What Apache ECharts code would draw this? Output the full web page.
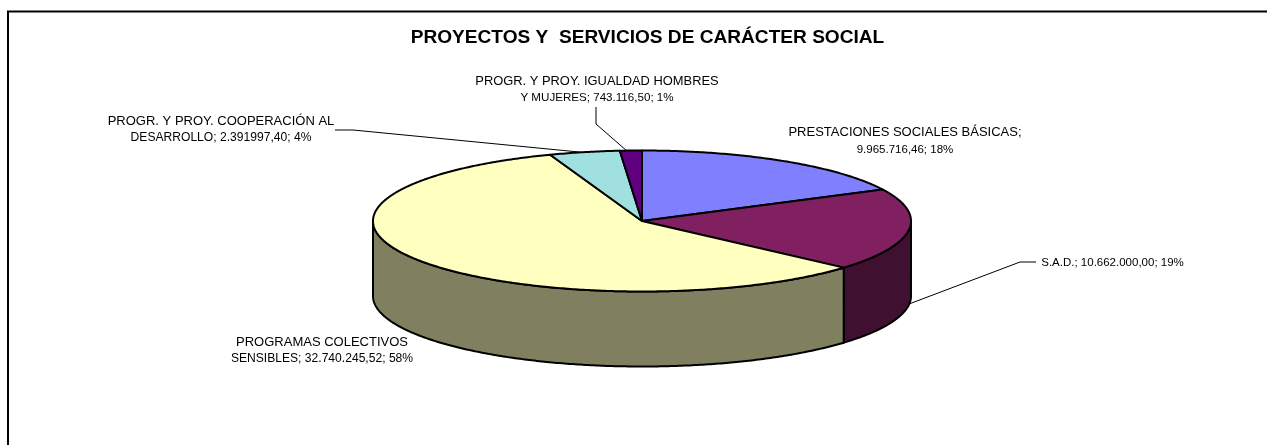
<!DOCTYPE html>
<html>
<head>
<meta charset="utf-8">
<style>
  html, body { margin: 0; padding: 0; background: #fff; }
  #chart { width: 1267px; height: 445px; }
</style>
<script src="https://cdn.jsdelivr.net/npm/echarts@6/dist/echarts.min.js"></script>
</head>
<body>
<div id="chart"></div>
<script>
const titleText = 'PROYECTOS Y  SERVICIOS DE CARÁCTER SOCIAL';
const categories = [
  'PRESTACIONES SOCIALES BÁSICAS',
  'S.A.D.',
  'PROGRAMAS COLECTIVOS SENSIBLES',
  'PROGR. Y PROY. COOPERACIÓN AL DESARROLLO',
  'PROGR. Y PROY. IGUALDAD HOMBRES Y MUJERES',
];
const values = [9965716.46, 10662000.00, 32740245.52, 2391997.40, 743116.50];
const valueTexts = ['9.965.716,46', '10.662.000,00', '32.740.245,52', '2.391997,40', '743.116,50'];
const percents = ['18%', '19%', '58%', '4%', '1%'];
// where the excel label wraps, per category
const labelBreaks = [
  ['PRESTACIONES SOCIALES BÁSICAS;', ''],
  ['', 'S.A.D.; '],
  ['PROGRAMAS COLECTIVOS', 'SENSIBLES; '],
  ['PROGR. Y PROY. COOPERACIÓN AL', 'DESARROLLO; '],
  ['PROGR. Y PROY. IGUALDAD HOMBRES', 'Y MUJERES; '],
];

const topColors = ['#8080ff', '#802060', '#ffffc0', '#a0e0e0', '#600080'];
const wallColors = ['#404080', '#401030', '#808060', '#507070', '#300040'];

// pie geometry, px
const CX = 642, CY = 221, RX = 269, RY = 70.5, DEPTH = 75;
const FONT = '"Liberation Sans", Arial, sans-serif';

// label [x, y of line 1, y of line 2], font size per line and leader polyline
const labelPos = [[905, 132, 150], [1112.5, 263, 263], [322, 342, 359], [221, 121, 138], [597, 81, 98]];
const labelSizes = [[13, 11.5], [11.5, 11.5], [13, 12.1], [13, 12.1], [12.9, 11.6]];
const leaders = [
  null,
  [[909, 304], [1020, 262], [1036, 262]],
  null,
  [[335, 130], [353, 130], [579, 152]],
  [[596, 107], [596, 124], [627, 151]],
];

const total = values.reduce((a, b) => a + b, 0);
const starts = [];
values.reduce((sum, v, i) => { starts[i] = sum / total * Math.PI * 2; return sum + v; }, 0);

// clock angle: 0 at 12 o'clock, going clockwise
function onRim(a, dy) {
  return [CX + RX * Math.sin(a), CY - RY * Math.cos(a) + (dy || 0)];
}

function arcPoints(a0, a1, dy) {
  const n = Math.max(2, Math.ceil((a1 - a0) / 0.01));
  const pts = [];
  for (let i = 0; i <= n; i++) pts.push(onRim(a0 + (a1 - a0) * i / n, dy));
  return pts;
}

function renderWall(params, api) {
  const i = params.dataIndex;
  const a0 = Math.max(starts[i], Math.PI / 2);
  const a1 = Math.min(starts[i] + api.value(0) / total * Math.PI * 2, Math.PI * 1.5);
  if (a1 <= a0) return null;
  const pts = arcPoints(a0, a1, 0).concat(arcPoints(a0, a1, DEPTH).reverse());
  return {
    type: 'polygon',
    shape: { points: pts },
    style: { fill: wallColors[i], stroke: '#000', lineWidth: 2 },
  };
}

function renderTop(params, api) {
  const i = params.dataIndex;
  const a0 = starts[i];
  const a1 = a0 + api.value(0) / total * Math.PI * 2;
  return {
    type: 'polygon',
    shape: { points: [[CX, CY]].concat(arcPoints(a0, a1, 0)) },
    style: { fill: topColors[i], stroke: '#000', lineWidth: 2, lineJoin: 'round' },
  };
}

function labelLine(text, x, y, size) {
  return {
    type: 'text',
    style: {
      text: text,
      x: x,
      y: y,
      align: 'center',
      verticalAlign: 'middle',
      font: size + 'px ' + FONT,
      fill: '#000',
    },
  };
}

function renderLabel(params) {
  const i = params.dataIndex;
  const pos = labelPos[i];
  const children = [];
  if (labelBreaks[i][0]) children.push(labelLine(labelBreaks[i][0], pos[0], pos[1], labelSizes[i][0]));
  children.push(labelLine(labelBreaks[i][1] + valueTexts[i] + '; ' + percents[i], pos[0], pos[2], labelSizes[i][1]));
  if (leaders[i]) {
    children.push({
      type: 'polyline',
      shape: { points: leaders[i] },
      style: { fill: null, stroke: '#000', lineWidth: 1 },
    });
  }
  return { type: 'group', children: children };
}

const seriesData = categories.map((name, i) => ({ name: name, value: values[i] }));

const chart = echarts.init(document.getElementById('chart'), null, { renderer: 'canvas' });
chart.setOption({
  animation: false,
  backgroundColor: '#fff',
  title: {
    text: titleText,
    left: 642.5,
    top: 23,
    textAlign: 'center',
    textStyle: { fontFamily: FONT, fontSize: 19.1, fontWeight: 'bold', color: '#000' },
  },
  graphic: [{
    type: 'polyline',
    silent: true,
    shape: { points: [[8, 445], [8, 11.5], [1267, 11.5]] },
    style: { fill: null, stroke: '#000', lineWidth: 2 },
  }],
  series: [
    { type: 'custom', coordinateSystem: 'none', z: 2, data: seriesData, renderItem: renderWall },
    { type: 'custom', coordinateSystem: 'none', z: 3, data: seriesData, renderItem: renderTop },
    { type: 'custom', coordinateSystem: 'none', z: 4, data: seriesData, renderItem: renderLabel },
  ],
});
</script>
</body>
</html>
